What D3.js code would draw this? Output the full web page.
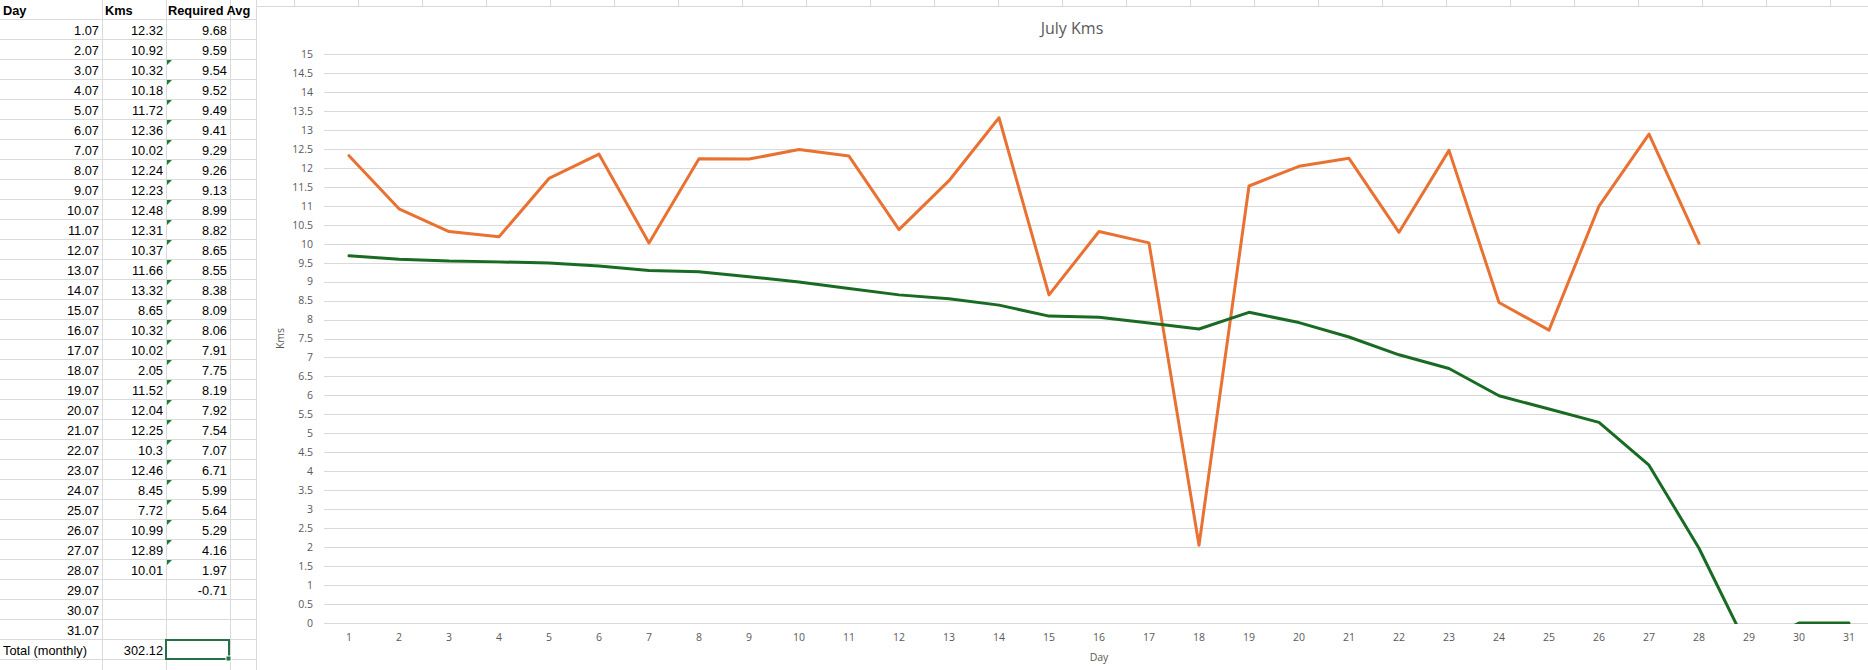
<!DOCTYPE html>
<html>
<head>
<meta charset="utf-8">
<script src="https://cdn.jsdelivr.net/npm/d3@7"></script>
<style>
  body { margin: 0; background: #fff; }
  svg { display: block; }
</style>
</head>
<body>
<div id="sheet"></div>
<script>

// sheet values (blank cells are null, formula blanks are "")
const dayLabels = ["1.07","2.07","3.07","4.07","5.07","6.07","7.07","8.07","9.07","10.07",
                   "11.07","12.07","13.07","14.07","15.07","16.07","17.07","18.07","19.07","20.07",
                   "21.07","22.07","23.07","24.07","25.07","26.07","27.07","28.07","29.07","30.07","31.07"];
const days = d3.range(1, 32).map(String);
const kms = [12.32,10.92,10.32,10.18,11.72,12.36,10.02,12.24,12.23,12.48,
             12.31,10.37,11.66,13.32,8.65,10.32,10.02,2.05,11.52,12.04,
             12.25,10.3,12.46,8.45,7.72,10.99,12.89,10.01,null,null,null];
const requiredAvg = [9.68,9.59,9.54,9.52,9.49,9.41,9.29,9.26,9.13,8.99,
                     8.82,8.65,8.55,8.38,8.09,8.06,7.91,7.75,8.19,7.92,
                     7.54,7.07,6.71,5.99,5.64,5.29,4.16,1.97,-0.71,"",""];
// green error markers shown on the Required Avg cells
const flagged = [false,false,true,true,true,true,true,true,true,true,
                 true,true,true,true,true,true,true,true,true,true,
                 true,true,true,true,true,true,true,true,false,false,false];
const yTicks = d3.range(0, 15.5, 0.5);

const width = 1868, height = 670;
const margin = {left: 324, right: -6, top: 54, bottom: 47}; // plot runs past the right edge

const svg = d3.select("#sheet")
    .append("svg")
    .attr("width", width)
    .attr("height", height);

/* ---------- spreadsheet part ---------- */

const gridColor = "#dadada";
const colEdges = [102, 166, 230, 256];
const rowTop = r => r === 0 ? -1 : 19 + 20 * (r - 1); // r = 0 is the header row

const sheet = svg.append("g").attr("font-family", "'Liberation Sans', Arial, sans-serif")
    .attr("font-size", "12.8px");

// row lines
sheet.selectAll(".rowline")
    .data(d3.range(1, 35))
    .enter()
    .append("line")
      .attr("x1", 0).attr("x2", 256)
      .attr("y1", r => rowTop(r) + 0.5).attr("y2", r => rowTop(r) + 0.5)
      .attr("stroke", gridColor);

// column lines, left of the chart
sheet.selectAll(".colline")
    .data(colEdges)
    .enter()
    .append("line")
      .attr("x1", d => d + 0.5).attr("x2", d => d + 0.5)
      .attr("y1", 0).attr("y2", height)
      .attr("stroke", gridColor);

// column lines peeking above the chart
sheet.selectAll(".topcol")
    .data(d3.range(294, width, 64))
    .enter()
    .append("line")
      .attr("x1", d => d + 0.5).attr("x2", d => d + 0.5)
      .attr("y1", 0).attr("y2", 6)
      .attr("stroke", gridColor);

// headers
sheet.selectAll(".head")
    .data([["Day", 3], ["Kms", 105], ["Required Avg", 168]])
    .enter()
    .append("text")
      .attr("x", d => d[1])
      .attr("y", rowTop(0) + 16)
      .attr("font-weight", "bold")
      .text(d => d[0]);

const rows = sheet.selectAll(".row")
    .data(dayLabels)
    .enter()
    .append("g")
      .attr("transform", (d, i) => `translate(0,${rowTop(i + 1) + 16})`)
      .attr("text-anchor", "end");

rows.append("text").attr("x", 99).text(d => d);
rows.append("text").attr("x", 163).text((d, i) => kms[i] === null ? "" : kms[i]);
rows.append("text").attr("x", 227).text((d, i) => requiredAvg[i]);

// error indicator triangles
rows.filter((d, i) => flagged[i])
    .append("path")
      .attr("d", "M167,-15 L172,-15 L167,-10 Z")
      .attr("fill", "#1f7a35");

// total row
const totalY = rowTop(32) + 16;
sheet.append("text").attr("x", 3).attr("y", totalY).text("Total (monthly)");
sheet.append("text").attr("x", 163).attr("y", totalY).attr("text-anchor", "end")
    .text(Math.round(d3.sum(kms) * 100) / 100);

// selected cell
sheet.append("rect")
    .attr("x", 166).attr("y", rowTop(32) + 1)
    .attr("width", 63).attr("height", 19)
    .attr("fill", "none")
    .attr("stroke", "#217346")
    .attr("stroke-width", 2);
sheet.append("rect")
    .attr("x", 226).attr("y", rowTop(32) + 17)
    .attr("width", 5).attr("height", 5)
    .attr("fill", "#217346")
    .attr("stroke", "#fff")
    .attr("stroke-width", 1);

/* ---------- chart part ---------- */

const chart = svg.append("g").attr("font-family", "'Open Sans', sans-serif");

// chart area
chart.append("rect")
    .attr("x", 256.5).attr("y", 6.5)
    .attr("width", 1700).attr("height", 700)
    .attr("fill", "#fff")
    .attr("stroke", "#d9d9d9");

// Maps day categories to pixel values
const xScale = d3.scaleBand()
    .domain(days)
    .range([margin.left, width - margin.right]);

// Maps kms to pixel values
const yScale = d3.scaleLinear()
    .domain([0, 15])
    .range([height - margin.bottom, margin.top]);

// horizontal gridlines
chart.append("g")
    .selectAll("line")
    .data(yTicks)
    .enter()
    .append("line")
      .attr("x1", margin.left).attr("x2", width - margin.right)
      .attr("y1", d => Math.round(yScale(d)) + 0.5)
      .attr("y2", d => Math.round(yScale(d)) + 0.5)
      .attr("stroke", "#d9d9d9");

// y axis labels
const yAxis = chart.append("g")
    .attr("transform", `translate(${margin.left},0)`)
    .call(d3.axisLeft(yScale).tickValues(yTicks).tickSize(0).tickPadding(11).tickFormat(d => String(d)));

// x axis labels
const xAxis = chart.append("g")
    .attr("transform", `translate(0,${height - margin.bottom})`)
    .call(d3.axisBottom(xScale).tickSize(0).tickPadding(11));

[yAxis, xAxis].forEach(ax => {
  ax.select(".domain").remove();
  ax.selectAll("text")
    .attr("font-family", "'Open Sans', sans-serif")
    .attr("font-size", "10.5px")
    .attr("fill", "#595959");
});

// clip lines to the plot area, like Excel does
svg.append("defs").append("clipPath")
    .attr("id", "plot")
  .append("rect")
    .attr("x", margin.left).attr("y", margin.top - 2)
    .attr("width", width).attr("height", yScale(0) - margin.top + 3);

const xc = d => xScale(d) + xScale.bandwidth() / 2;

const kmsLine = d3.line()
    .defined(d => d[1] !== null)
    .x(d => xc(d[0]))
    .y(d => yScale(d[1]));

// text cells ("") are plotted as zero
const avgLine = d3.line()
    .x(d => xc(d[0]))
    .y(d => yScale(+d[1]));

const lines = chart.append("g").attr("clip-path", "url(#plot)");

lines.append("path")
    .datum(days.map((d, i) => [d, kms[i]]))
    .attr("d", kmsLine)
    .attr("fill", "none")
    .attr("stroke", "#e97132")
    .attr("stroke-width", 3)
    .attr("stroke-linejoin", "round")
    .attr("stroke-linecap", "round");

lines.append("path")
    .datum(days.map((d, i) => [d, requiredAvg[i]]))
    .attr("d", avgLine)
    .attr("fill", "none")
    .attr("stroke", "#196b24")
    .attr("stroke-width", 3)
    .attr("stroke-linejoin", "round")
    .attr("stroke-linecap", "round");

// titles
chart.append("text")
    .attr("x", 1072).attr("y", 34)
    .attr("text-anchor", "middle")
    .attr("font-size", "16px")
    .attr("fill", "#595959")
    .text("July Kms");

chart.append("text")
    .attr("transform", `translate(284,${yScale(7.5)}) rotate(-90)`)
    .attr("text-anchor", "middle")
    .attr("font-size", "10.5px")
    .attr("fill", "#595959")
    .text("Kms");

chart.append("text")
    .attr("x", xScale("16") + xScale.bandwidth() / 2).attr("y", 661)
    .attr("text-anchor", "middle")
    .attr("font-size", "10.5px")
    .attr("fill", "#595959")
    .text("Day");

</script>
</body>
</html>
